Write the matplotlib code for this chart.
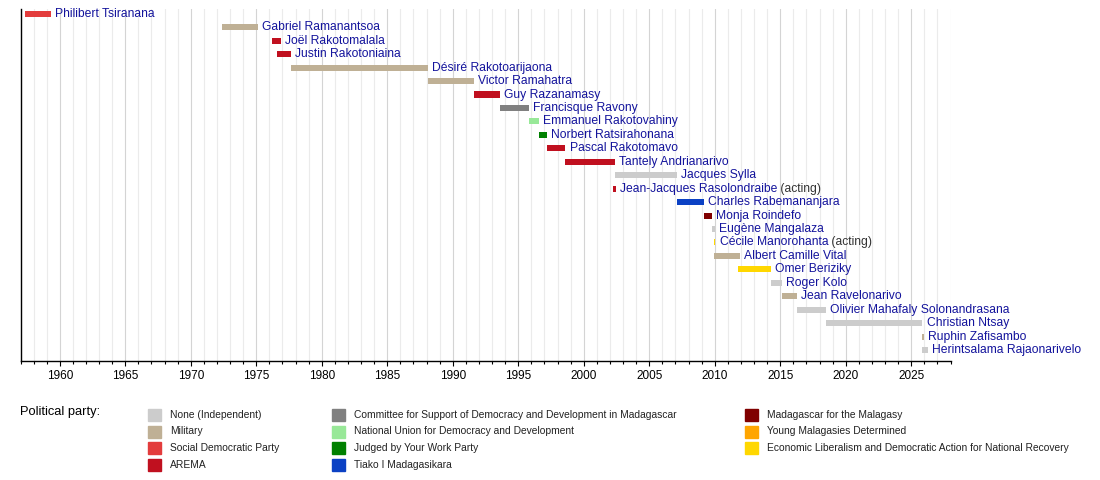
import matplotlib
matplotlib.use("Agg")
import matplotlib.pyplot as plt
from matplotlib.patches import Rectangle

plt.rcParams['font.family'] = ['Liberation Sans', 'DejaVu Sans']

# party colours
party_names = [
    "None (Independent)", "Military", "Social Democratic Party", "AREMA",
    "Committee for Support of Democracy and Development in Madagascar",
    "National Union for Democracy and Development", "Judged by Your Work Party",
    "Tiako I Madagasikara", "Madagascar for the Malagasy",
    "Young Malagasies Determined",
    "Economic Liberalism and Democratic Action for National Recovery",
]
party_colors = [
    "#cccccc", "#bfb095", "#e33c3c", "#c0101f", "#808080", "#98e898",
    "#008000", "#0b41c4", "#800000", "#ffa500", "#ffd700",
]

# prime ministers
names = [
    "Philibert Tsiranana", "Gabriel Ramanantsoa", "Joël Rakotomalala",
    "Justin Rakotoniaina", "Désiré Rakotoarijaona", "Victor Ramahatra",
    "Guy Razanamasy", "Francisque Ravony", "Emmanuel Rakotovahiny",
    "Norbert Ratsirahonana", "Pascal Rakotomavo", "Tantely Andrianarivo",
    "Jacques Sylla", "Jean-Jacques Rasolondraibe", "Charles Rabemananjara",
    "Monja Roindefo", "Eugène Mangalaza", "Cécile Manorohanta",
    "Albert Camille Vital", "Omer Beriziky", "Roger Kolo", "Jean Ravelonarivo",
    "Olivier Mahafaly Solonandrasana", "Christian Ntsay", "Ruphin Zafisambo",
    "Herintsalama Rajaonarivelo",
]
starts = [1957.35, 1972.38, 1976.22, 1976.55, 1977.65, 1988.1, 1991.6, 1993.6,
          1995.8, 1996.55, 1997.2, 1998.6, 2002.4, 2002.25, 2007.1, 2009.2,
          2009.8, 2009.95, 2009.95, 2011.8, 2014.3, 2015.1, 2016.3, 2018.5,
          2025.8, 2025.85]
ends = [1959.3, 1975.15, 1976.85, 1977.65, 1988.1, 1991.6, 1993.6, 1995.8,
        1996.55, 1997.2, 1998.6, 2002.4, 2007.1, 2002.45, 2009.2, 2009.8,
        2010.0, 2010.05, 2011.9, 2014.3, 2015.1, 2016.3, 2018.5, 2025.85,
        2025.95, 2026.25]
party = [2, 1, 3, 3, 1, 1, 3, 4, 5, 6, 3, 3, 0, 3, 7, 8, 0, 10, 1, 10, 0, 1,
         0, 0, 1, 0]
acting = ["Jean-Jacques Rasolondraibe", "Cécile Manorohanta"]

fig = plt.figure(figsize=(11, 4.8), dpi=100)
ax = fig.add_axes([20.5 / 1100, 1 - 360.7 / 480, 930 / 1100, (360.7 - 9) / 480])

label_blue = "#14149c"
for i, nm in enumerate(names):
    ax.barh(i, ends[i] - starts[i], left=starts[i], height=0.45,
            color=party_colors[party[i]], zorder=3)
    t = ax.annotate(nm, xy=(ends[i], i), xytext=(3, 0),
                    textcoords='offset points', va='center', ha='left',
                    fontsize=8.7, color=label_blue, annotation_clip=False)
    if nm in acting:
        ax.annotate(" (acting)", xy=(1, 0), xycoords=t, va='bottom',
                    ha='left', fontsize=8.7, color="#333333",
                    annotation_clip=False)

ax.set_xlim(1957, 2028)
ax.set_ylim((360.7 - 13.8) / 13.45, -4.8 / 13.45)
ax.set_xticks(range(1960, 2029, 5))
ax.set_xticks(range(1957, 2029), minor=True)
ax.set_yticks([])
ax.grid(which='major', axis='x', color='#d4d4d4', linewidth=0.8, zorder=0)
ax.grid(which='minor', axis='x', color='#ebebeb', linewidth=0.8, zorder=0)
ax.set_axisbelow(True)
ax.tick_params(axis='x', which='major', length=3.6, width=0.8, pad=3,
               labelsize=8.5)
ax.tick_params(axis='x', which='minor', length=2.2, width=0.8)
for s in ['top', 'right']:
    ax.spines[s].set_visible(False)
ax.spines['left'].set_linewidth(1)
ax.spines['bottom'].set_linewidth(1)

# legend
fig.text(20 / 1100, 1 - 411.5 / 480, "Political party:", fontsize=9.3,
         va='center', ha='left')
col_x = [148, 332, 745]
row_y = [415, 431.5, 448, 464.5]
for k, pn in enumerate(party_names):
    c, r = divmod(k, 4)
    x0 = col_x[c]
    y0 = row_y[r]
    fig.patches.append(Rectangle((x0 / 1100, 1 - (y0 + 6) / 480), 13 / 1100,
                                 12 / 480, transform=fig.transFigure,
                                 color=party_colors[k]))
    fig.text((x0 + 22) / 1100, 1 - y0 / 480, pn, fontsize=7.4, va='center',
             ha='left', color="#222222")

fig.savefig("out.png", dpi=100)
